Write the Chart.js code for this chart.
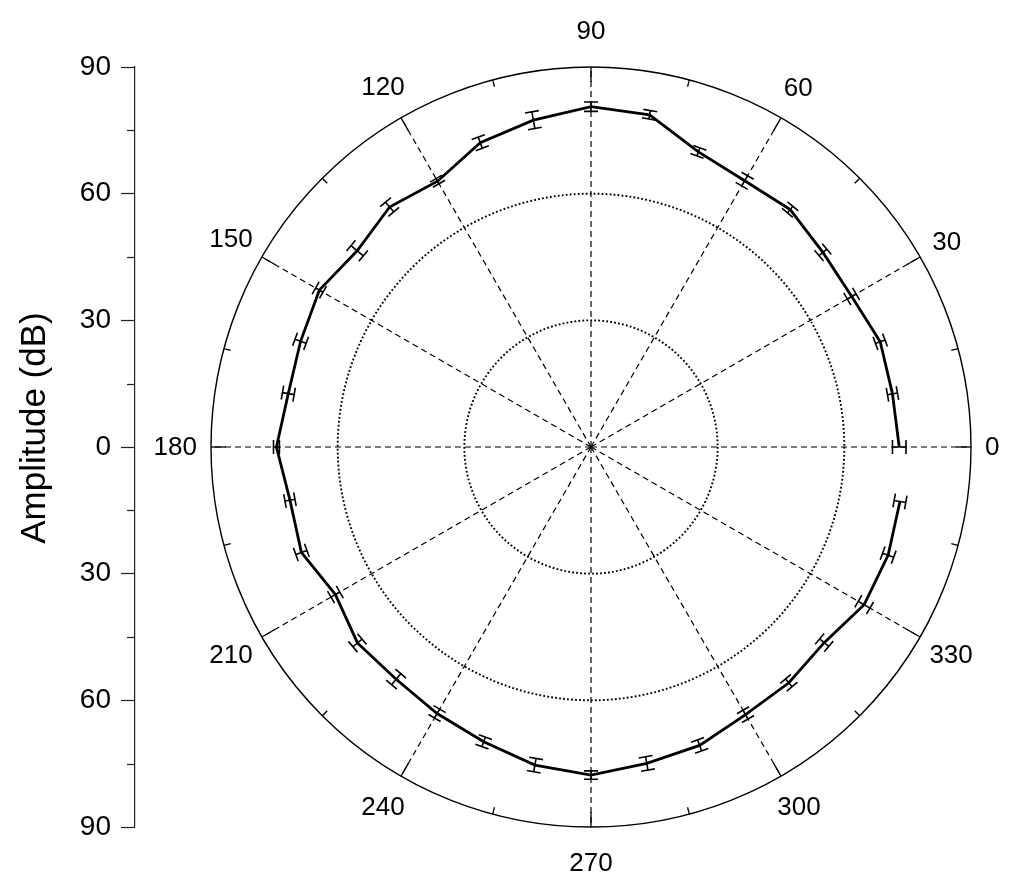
<!DOCTYPE html>
<html>
<head>
<meta charset="utf-8">
<script src="https://cdn.jsdelivr.net/npm/chart.js@4.4.1/dist/chart.umd.min.js"></script>
<style>
  html, body { margin: 0; padding: 0; background: #fff; }
  #wrap { width: 1024px; height: 887px; position: relative; }
</style>
</head>
<body>
<div id="wrap"><canvas id="polarChart"></canvas></div>
<script>
// angle of each measurement (degrees, counter-clockwise from the right)
const angles = [0, 10, 20, 30, 40, 50, 60, 70, 80, 90, 100, 110, 120, 130, 140, 150, 160, 170,
                180, 190, 200, 210, 220, 230, 240, 250, 260, 270, 280, 290, 300, 310, 320, 330, 340, 350];
// measured amplitude (dB)
const amplitude = [73.0, 72.5, 72.9, 71.3, 71.7, 73.4, 72.8, 74.4, 79.9, 80.6, 78.6, 76.7,
                   72.7, 74.2, 72.3, 74.3, 73.2, 72.8, 74.5, 72.4, 73.0, 69.9, 72.2, 71.8,
                   72.9, 74.3, 76.5, 77.7, 76.1, 75.2, 73.2, 72.9, 72.1, 74.7, 74.9, 74.3];
// error bar half-length (dB)
const errors = [1.6, 1.2, 1.2, 1.2, 1.2, 1.0, 1.4, 1.0, 1.0, 1.1, 2.0, 1.4,
                0.7, 1.5, 1.9, 1.0, 1.4, 1.4, 0.7, 1.2, 1.4, 1.2, 1.4, 1.7,
                1.2, 1.2, 1.6, 1.0, 1.6, 1.4, 1.2, 1.2, 1.4, 1.6, 1.4, 1.4];
const angleTicks = [0, 30, 60, 90, 120, 150, 180, 210, 240, 270, 300, 330];
const ringTicks = [30, 60];
const rMax = 90;
const axisTitle = 'Amplitude (dB)';

const FONT = "'Liberation Sans', Arial, sans-serif";
const rad = d => d * Math.PI / 180;

const punti = angles.map((a, i) => ({
    x: amplitude[i] * Math.cos(rad(a)),
    y: amplitude[i] * Math.sin(rad(a))
}));

// polar grid: rings, spokes, outer ticks and angle labels
const gradePolar = {
    id: 'gradePolar',
    beforeDatasetsDraw(chart) {
        const { ctx, scales: { x, y } } = chart;
        const cx = x.getPixelForValue(0);
        const cy = y.getPixelForValue(0);
        const R = x.getPixelForValue(rMax) - cx;
        ctx.save();
        ctx.strokeStyle = '#000';

        // dotted rings
        ctx.lineWidth = 1.9;
        ctx.setLineDash([1.8, 2.2]);
        ringTicks.forEach(v => {
            const r = x.getPixelForValue(v) - cx;
            ctx.beginPath();
            ctx.arc(cx, cy, r, 0, Math.PI * 2);
            ctx.stroke();
        });

        // dashed spokes
        ctx.lineWidth = 1.2;
        ctx.setLineDash([6, 4]);
        angleTicks.forEach(a => {
            ctx.beginPath();
            ctx.moveTo(cx, cy);
            ctx.lineTo(cx + R * Math.cos(rad(a)), cy - R * Math.sin(rad(a)));
            ctx.stroke();
        });

        // outer circle
        ctx.setLineDash([]);
        ctx.lineWidth = 1.4;
        ctx.beginPath();
        ctx.arc(cx, cy, R, 0, Math.PI * 2);
        ctx.stroke();

        // inward ticks on the outer circle
        ctx.lineWidth = 1.3;
        for (let a = 0; a < 360; a += 15) {
            const len = a % 30 === 0 ? 15 : 7;
            const c = Math.cos(rad(a)), s = Math.sin(rad(a));
            ctx.beginPath();
            ctx.moveTo(cx + (R - len) * c, cy - (R - len) * s);
            ctx.lineTo(cx + R * c, cy - R * s);
            ctx.stroke();
        }

        // angle labels
        ctx.fillStyle = '#000';
        ctx.font = '26px ' + FONT;
        ctx.textAlign = 'center';
        ctx.textBaseline = 'middle';
        angleTicks.forEach(a => {
            const txt = String(a);
            const w = ctx.measureText(txt).width / 2;
            const c = Math.cos(rad(a)), s = Math.sin(rad(a));
            const d = R + 14 + Math.sqrt((w * c) ** 2 + (22 * s) ** 2);
            ctx.fillText(txt, cx + d * c, cy - d * s + 1);
        });
        ctx.restore();
    }
};

// radial error bars
const barrasErro = {
    id: 'barrasErro',
    afterDatasetsDraw(chart) {
        const { ctx, scales: { x, y } } = chart;
        const cap = 7;
        ctx.save();
        ctx.strokeStyle = '#000';
        ctx.lineWidth = 1.6;
        angles.forEach((a, i) => {
            const c = Math.cos(rad(a)), s = Math.sin(rad(a));
            const lo = amplitude[i] - errors[i];
            const hi = amplitude[i] + errors[i];
            const x1 = x.getPixelForValue(lo * c), y1 = y.getPixelForValue(lo * s);
            const x2 = x.getPixelForValue(hi * c), y2 = y.getPixelForValue(hi * s);
            // tangent direction in pixel space
            const tx = s, ty = c;
            ctx.beginPath();
            ctx.moveTo(x1, y1);
            ctx.lineTo(x2, y2);
            ctx.moveTo(x1 - cap * tx, y1 - cap * ty);
            ctx.lineTo(x1 + cap * tx, y1 + cap * ty);
            ctx.moveTo(x2 - cap * tx, y2 - cap * ty);
            ctx.lineTo(x2 + cap * tx, y2 + cap * ty);
            ctx.stroke();
        });
        ctx.restore();
    }
};

// minor ticks and title of the amplitude axis
const eixoAmplitude = {
    id: 'eixoAmplitude',
    afterDraw(chart) {
        const { ctx, scales: { y } } = chart;
        ctx.save();
        ctx.strokeStyle = '#222';
        ctx.lineWidth = 1.2;
        [-75, -45, -15, 15, 45, 75].forEach(v => {
            const py = Math.round(y.getPixelForValue(v)) + 0.5;
            ctx.beginPath();
            ctx.moveTo(y.right - 8, py);
            ctx.lineTo(y.right, py);
            ctx.stroke();
        });
        // title sits a little above the axis middle in the original
        ctx.translate(35, (y.top + y.bottom) / 2 - 19);
        ctx.rotate(-Math.PI / 2);
        ctx.fillStyle = '#000';
        ctx.font = '35px ' + FONT;
        ctx.textAlign = 'center';
        ctx.textBaseline = 'middle';
        ctx.fillText(axisTitle, 0, 0);
        ctx.restore();
    }
};

new Chart(document.getElementById('polarChart'), {
    type: 'scatter',
    data: {
        datasets: [{
            data: punti,
            showLine: true,
            borderColor: '#000',
            borderWidth: 2.8,
            pointRadius: 0,
            tension: 0
        }]
    },
    options: {
        responsive: true,
        maintainAspectRatio: false,
        animation: false,
        devicePixelRatio: 1,
        layout: { padding: { top: 67, bottom: 60, right: 53, left: 0 } },
        plugins: { legend: { display: false }, tooltip: { enabled: false } },
        scales: {
            x: {
                type: 'linear',
                display: false,
                min: -108,
                max: 90
            },
            y: {
                type: 'linear',
                min: -90,
                max: 90,
                afterFit: scale => { scale.width = 135; },
                border: { display: true, color: '#222', width: 1.2 },
                grid: {
                    display: true,
                    drawOnChartArea: false,
                    drawTicks: true,
                    tickLength: 14,
                    tickColor: '#222',
                    tickWidth: 1.2
                },
                ticks: {
                    stepSize: 30,
                    padding: 10,
                    color: '#000',
                    font: { size: 28, family: FONT },
                    callback: v => Math.abs(v)
                }
            }
        }
    },
    plugins: [gradePolar, barrasErro, eixoAmplitude]
});
</script>
</body>
</html>
